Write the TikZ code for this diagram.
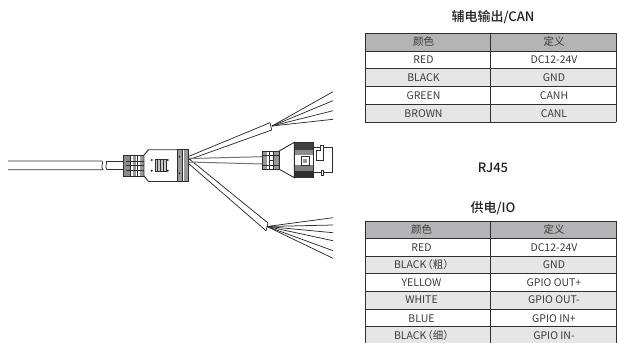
\documentclass[tikz,border=0pt]{standalone}
\usepackage{fontspec}
\setmainfont{Noto Sans CJK SC}[BoldFont=* Medium]
\definecolor{ink}{HTML}{2E2E2E}
\definecolor{hdr}{HTML}{B4B4B6}
\definecolor{alt}{HTML}{E6E6E7}
\definecolor{txt}{HTML}{3A3A3A}
\newcommand{\lpar}{\kern-4pt（}
\newcommand{\rpar}{）\kern-5pt}
\tikzset{
 cellt/.style={font=\fontsize{10.5}{11}\selectfont,text=txt,inner sep=0pt,anchor=center},
 title/.style={font=\fontsize{13}{14}\bfseries\selectfont,text=black!88,inner sep=0pt,anchor=center},
 wire/.style={draw=ink,line width=.75pt},
 body/.style={draw=ink,line width=.9pt,fill=white},
 thin/.style={draw=ink,line width=.6pt},
 tline/.style={draw=ink,line width=.9pt}
}
\begin{document}
\begin{tikzpicture}[x=1pt,y=-1pt]
\useasboundingbox (0,0) rectangle (617,342);
\begin{scope}
\clip (0,0) rectangle (617,342);
% Table 1
\fill[hdr] (365,33) rectangle (616,51);
\fill[alt] (365,68.5) rectangle (616,86.5);
\fill[alt] (365,104) rectangle (616,122);
\foreach \y in {33,51,68.5,86.5,104,122}{\draw[tline] (365,\y) -- (616,\y);}
\foreach \x in {365,490.5,616}{\draw[tline] (\x,33) -- (\x,122);}
% Table 2
\fill[hdr] (365,221) rectangle (616,238);
\fill[alt] (365,256) rectangle (616,273.5);
\fill[alt] (365,291) rectangle (616,309);
\fill[alt] (365,326.5) rectangle (616,344);
\foreach \y in {221,238,256,273.5,291,309,326.5,344}{\draw[tline] (365,\y) -- (616,\y);}
\foreach \x in {365,490.5,616}{\draw[tline] (\x,221) -- (\x,344);}
\end{scope}
\node[title] (t1) at (493,17) {辅电输出/CAN};
\node[title] (t2) at (493,168) {RJ45};
\node[title] (t3) at (493,208) {供电/IO};
\foreach \n/\y/\a/\b in {a/41.7/颜色/定义,b/60/RED/DC12-24V,c/77.7/BLACK/GND,d/95.7/GREEN/CANH,e/113.3/BROWN/CANL}{
 \node[cellt] (\n1) at (423.5,\y) {\a};
 \node[cellt] (\n2) at (554,\y) {\b};
}
\foreach \n/\y/\a/\b in {f/229.3/颜色/定义,g/247.3/RED/DC12-24V,h/265/BLACK\lpar 粗\rpar/GND,i/282.7/YELLOW/GPIO OUT+,j/300/WHITE/GPIO OUT-,k/318.3/BLUE/GPIO IN+,l/336/BLACK\lpar 细\rpar/GPIO IN-}{
 \node[cellt] (\n1) at (421.5,\y) {\a};
 \node[cellt] (\n2) at (554,\y) {\b};
}
% main cable
\draw[wire] (8,161) -- (102,161) .. controls (104,163) and (100,167) .. (103,169.7) -- (8,169.7);
\draw[wire] (106,161) .. controls (108,163) and (104,167) .. (107,169.7);
\draw[wire] (106,161) -- (124,161);
\draw[wire] (107,169.7) -- (124,169.7);
% cable boot
\draw[body] (123,155) rectangle (144,176);
\fill[black!45] (123.5,155.5) rectangle (130,175.5);
\fill[black!40] (132.5,155.5) rectangle (136,175.5);
\fill[black!40] (139.5,155.5) rectangle (143.5,175.5);
\draw[thin] (130,155) -- (130,176) (137,155) -- (137,176);
\foreach \y in {161,165.5,170}{\draw[thin] (126,\y) -- (144,\y);}
% body
\draw[body] (144,155) -- (148.5,149.7) -- (177.5,149.7) -- (177.5,181.5) -- (148.5,181.5) -- (144,176) -- cycle;
\fill[black!22] (155,159.5) rectangle (166,171.5);
\draw[thin,line width=.8pt] (155,159.5) rectangle (166,171.5);
\foreach \x in {157.7,160.5,163.3}{\draw[ink,line width=.7pt] (\x,159.5) -- (\x,171.5);}
\fill[ink] (151.7,160) circle (1.2) (151.7,170.7) circle (1.2) (167.7,160) circle (1.2) (167.7,170.7) circle (1.2);
\draw[body] (177.5,149.7) rectangle (188.7,181.5);
\fill[black!40] (178,150.2) rectangle (181.7,181);
\fill[black!40] (183.5,150.2) rectangle (188.2,181);
\draw[thin] (182.5,149.7) -- (182.5,181.5);
\fill[ink] (179.5,156.7) circle (1) (179.5,173.3) circle (1);
% upper branch
\draw[wire] (188,156.7) -- (270,122.7);
\draw[wire] (188,160) -- (271.7,130);
\draw[wire] (270,122.7) -- (271.7,130);
\coordinate (u) at (272,126);
\draw[wire] (u) -- (333,91.7);
\draw[wire] (u) -- (333,100.7);
\draw[wire] (u) -- (333,110.7);
\draw[wire] (u) -- (333,119.3);
% lower branch
\draw[wire] (188,158) -- (268,223);
\draw[wire] (188,163) -- (266,230.7);
\draw[wire] (268,223) -- (266,230.7);
\coordinate (d) at (267,226.5);
\draw[wire] (d) -- (333,217.7);
\draw[wire] (d) -- (333,225);
\draw[wire] (d) -- (333,232.7);
\draw[wire] (d) -- (333,240.7);
\draw[wire] (d) -- (333,250.7);
\draw[wire] (d) -- (333,258.3);
% rj45 cable
\draw[draw=black!55,line width=1pt] (189,158.5) -- (263,156.7);
\draw[draw=black!55,line width=1pt] (189,162) -- (263,164);
% rj45 plug
\draw[body] (262.3,151) rectangle (279.3,169.3);
\fill[black!40] (263,151.5) rectangle (267,168.8);
\fill[black!40] (273,151.5) rectangle (278.7,168.8);
\draw[thin] (262.3,155.5) -- (279.3,155.5) (262.3,165) -- (279.3,165) (269,151) -- (269,169.3) (273,151) -- (273,169.3);
\draw[thin] (269,160) -- (273,160);
\draw[body] (279.3,151) -- (294.3,142.3) -- (294.3,177.7) -- (279.3,169.3) -- cycle;
\draw[body] (294.3,142.3) rectangle (313.3,177.7);
\fill[black!75] (294.8,142.8) rectangle (312.8,150);
\fill[black!45] (294.8,150) rectangle (312.8,155);
\fill[black!50] (294.8,165) rectangle (312.8,171);
\fill[black!82] (294.8,171) rectangle (312.8,177.2);
\draw[ink,line width=.9pt] (301,156.3) rectangle (309.3,165);
\fill[black!40] (303.3,158.5) rectangle (307,163);
\draw[wire] (313.3,147) -- (332.7,147) -- (332.7,172.7) -- (313.3,172.7);
\draw[body] (320,145) -- (323,145) -- (323,160) -- (316.7,160) -- (316.7,150.5) -- (320,150.5) -- cycle;
\draw[body] (321,170) rectangle (323.7,175.7);
\end{tikzpicture}
\end{document}
